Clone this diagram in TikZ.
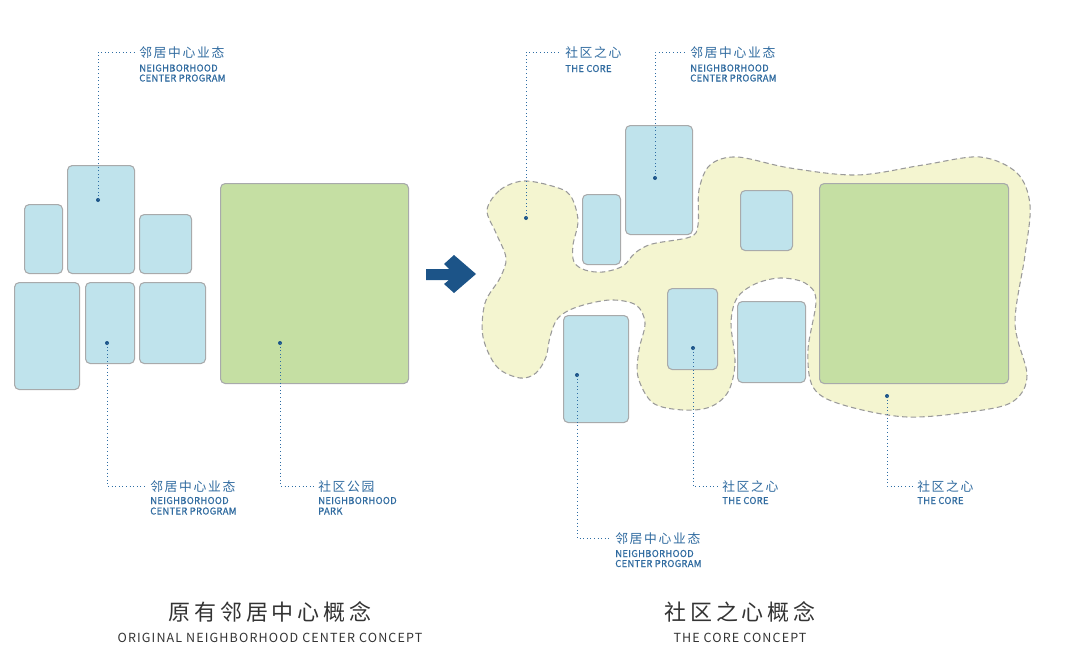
\documentclass[tikz,border=0pt]{standalone}
\usepackage{fontspec}
\setmainfont{Noto Sans CJK SC}
\definecolor{boxblue}{HTML}{BFE3EC}
\definecolor{boxline}{HTML}{A8AAAB}
\definecolor{parkgreen}{HTML}{C5DFA3}
\definecolor{blobfill}{HTML}{F4F5D0}
\definecolor{blobline}{HTML}{9A9A9A}
\definecolor{leadc}{HTML}{2E6DA4}
\definecolor{lblc}{HTML}{2F6A9F}
\definecolor{titlec}{HTML}{333333}
\definecolor{arrowc}{HTML}{1C5488}
\newcommand\rbox[6]{\node[#6, anchor=north west, minimum width={(#4-#2)*0.75pt}, minimum height={(#5-#3)*0.75pt}] (#1) at (#2,#3) {};}
\tikzset{
  blk/.style={draw=boxline, fill=boxblue, line width=0.8pt, rounded corners=3.5pt, inner sep=0pt},
  grn/.style={draw=boxline, fill=parkgreen, line width=0.8pt, rounded corners=3.5pt, inner sep=0pt},
  lead/.style={draw=leadc, line width=0.7pt, dotted},
  lblcn/.style={text=lblc, font=\fontsize{9.6}{10}\selectfont\addfontfeatures{LetterSpace=13}, inner sep=0pt, anchor=base west},
  lblen/.style={text=lblc, font=\fontsize{7.1}{7}\selectfont\addfontfeatures{FakeBold=0.6,LetterSpace=3}, inner sep=0pt, anchor=base west},
  ttlcn/.style={text=titlec, font=\fontsize{16.5}{17}\selectfont\addfontfeatures{LetterSpace=18}, inner sep=0pt},
  ttlen/.style={text=titlec, font=\fontsize{9.4}{10}\selectfont\addfontfeatures{LetterSpace=9}, inner sep=0pt},
  dotc/.style={fill=arrowc}
}
\begin{document}
\begin{tikzpicture}[x=0.75pt,y=-0.75pt]
\useasboundingbox (0,0) rectangle (1080,671);
% ---------- left group ----------
\rbox{L1}{24}{204}{62}{273}{blk}
\rbox{L2}{67}{165}{134}{273}{blk}
\rbox{L3}{139}{214}{191}{273}{blk}
\rbox{L4}{14}{282}{79}{389}{blk}
\rbox{L5}{85}{282}{134}{363}{blk}
\rbox{L6}{139}{282}{205}{363}{blk}
\rbox{LP}{220}{183}{408}{383}{grn}
% ---------- arrow ----------
\fill[arrowc] (426,269) -- (449,269) -- (444,264) -- (454,255) -- (476,274) -- (454,293) -- (444,284) -- (449,280) -- (426,280) -- cycle;
% ---------- blob ----------
\draw[blobline, fill=blobfill, line width=0.8pt, dash pattern=on 4pt off 2.5pt]
 plot[smooth cycle, tension=0.55] coordinates {
 (487,210) (500,190) (523,181) (552,186) (570,195) (578,220) (573,245) (574,262) (585,270) (603,272)
 (623,266) (635,253) (652,244) (690,237) (698,225) (699,190) (710,165) (737,157) (790,168) (857,175)
 (923,165) (980,157) (1017,173) (1030,205) (1025,255) (1015,323) (1027,375) (1015,400) (983,410) (907,417)
 (840,404) (813,387) (808,350) (816,300) (805,283) (780,278) (755,284) (737,298) (731,323) (735,363)
 (728,392) (710,407) (683,410) (653,403) (638,377) (639,350) (645,323) (636,305) (610,300) (577,307)
 (558,318) (550,337) (546,357) (536,373) (520,378) (497,367) (483,337) (485,303) (500,278) (506,258)
 (496,233)};
% ---------- right group ----------
\rbox{R1}{582}{194}{620}{264}{blk}
\rbox{R2}{625}{125}{692}{234}{blk}
\rbox{R3}{740}{190}{792}{250}{blk}
\rbox{RP}{819}{183}{1008}{383}{grn}
\rbox{R4}{667}{288}{717}{369}{blk}
\rbox{R5}{737}{301}{805}{382}{blk}
\rbox{R6}{563}{315}{628}{422}{blk}
% ---------- dots ----------
\coordinate (d1) at (98,200);
\coordinate (d2) at (107,343);
\coordinate (d3) at (280,343);
\coordinate (d4) at (526,218);
\coordinate (d5) at (655,178);
\coordinate (d6) at (693,348);
\coordinate (d7) at (887,396);
\coordinate (d8) at (577,375);
\foreach \d in {d1,d2,d3,d4,d5,d6,d7,d8} \fill[dotc] (\d) circle (1.5pt);
% ---------- labels ----------
\node[lblcn] (t1) at (139,57) {邻居中心业态};
\node[lblen] (t1a) at (139,71.5) {NEIGHBORHOOD};
\node[lblen] (t1b) at (139,81.5) {CENTER PROGRAM};
\coordinate (e1) at (135,52);
\draw[lead] (d1) |- (e1);

\node[lblcn] (t2) at (150,491) {邻居中心业态};
\node[lblen] (t2a) at (150,504) {NEIGHBORHOOD};
\node[lblen] (t2b) at (150,514.5) {CENTER PROGRAM};
\coordinate (e2) at (146,486);
\draw[lead] (d2) |- (e2);

\node[lblcn] (t3) at (318,491) {社区公园};
\node[lblen] (t3a) at (318,504) {NEIGHBORHOOD};
\node[lblen] (t3b) at (318,514.5) {PARK};
\coordinate (e3) at (314,486);
\draw[lead] (d3) |- (e3);

\node[lblcn] (t4) at (565,57) {社区之心};
\node[lblen] (t4a) at (565,72) {THE CORE};
\coordinate (e4) at (561,52);
\draw[lead] (d4) |- (e4);

\node[lblcn] (t5) at (690,57) {邻居中心业态};
\node[lblen] (t5a) at (690,71.5) {NEIGHBORHOOD};
\node[lblen] (t5b) at (690,81.5) {CENTER PROGRAM};
\coordinate (e5) at (686,52);
\draw[lead] (d5) |- (e5);

\node[lblcn] (t6) at (722,491) {社区之心};
\node[lblen] (t6a) at (722,504) {THE CORE};
\coordinate (e6) at (718,486);
\draw[lead] (d6) |- (e6);

\node[lblcn] (t7) at (917,491) {社区之心};
\node[lblen] (t7a) at (917,504) {THE CORE};
\coordinate (e7) at (913,486);
\draw[lead] (d7) |- (e7);

\node[lblcn] (t8) at (615,543) {邻居中心业态};
\node[lblen] (t8a) at (615,557) {NEIGHBORHOOD};
\node[lblen] (t8b) at (615,567) {CENTER PROGRAM};
\coordinate (e8) at (611,538);
\draw[lead] (d8) |- (e8);
% ---------- titles ----------
\node[ttlcn] (T1) at (270,612) {原有邻居中心概念};
\node[ttlen] (T1e) at (270,638) {ORIGINAL NEIGHBORHOOD CENTER CONCEPT};
\node[ttlcn] (T2) at (740,612) {社区之心概念};
\node[ttlen] (T2e) at (740,638) {THE CORE CONCEPT};
\end{tikzpicture}
\end{document}
